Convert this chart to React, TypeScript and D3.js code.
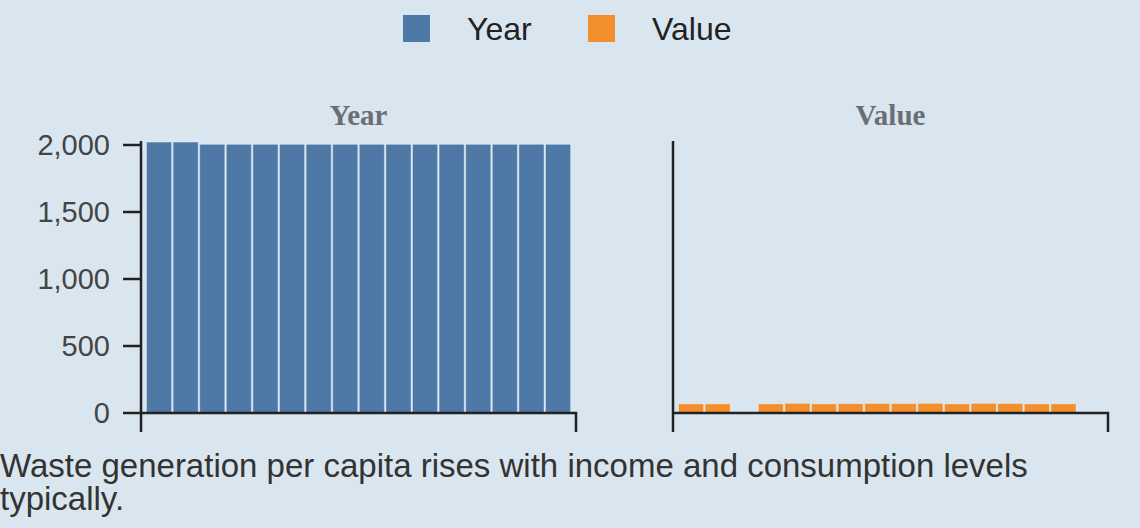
import React from "react";
import * as d3 from "d3";

const years = [2022, 2022, 2005, 2005, 2005, 2005, 2005, 2005, 2005, 2005, 2005, 2005, 2005, 2005, 2005, 2005];
const values: (number | null)[] = [68, 68, null, 68, 72, 68, 70, 71, 70, 72, 68, 72, 71, 68, 68, null];
const yTicks = [0, 500, 1000, 1500, 2000];
const caption = ["Waste generation per capita rises with income and consumption levels", "typically."];

const W = 1140, H = 528;
const y = d3.scaleLinear().domain([0, 2000]).range([413, 145]);

function Panel({ x0, x1, data, color, title, labels }: { x0: number; x1: number; data: (number | null)[]; color: string; title: string; labels: boolean }) {
  const x = d3.scaleBand<number>().domain(d3.range(16)).range([x0 + 5, x0 + 5 + 16 * 26.6]).padding(0);
  return (
    <g>
      <text x={(x0 + x1) / 2} y={125} textAnchor="middle" fontFamily="Liberation Serif" fontWeight="bold" fontSize={29} fill="#6b6e73">{title}</text>
      {data.map((v, i) => v == null ? null : (
        <rect key={i} x={x(i)! + 0.5} y={y(v)} width={x.bandwidth() - 1.5} height={y(0) - y(v)} fill={color} stroke="rgba(255,255,255,0.35)" strokeWidth={1} />
      ))}
      <line x1={x0} x2={x0} y1={141} y2={432} stroke="#222" strokeWidth={2.5} />
      <path d={`M${x0},413H${x1}V432`} fill="none" stroke="#222" strokeWidth={2.5} />
      {labels && yTicks.map(t => (
        <g key={t}>
          <line x1={x0 - 18} x2={x0} y1={y(t)} y2={y(t)} stroke="#222" strokeWidth={2.5} />
          <text x={x0 - 31} y={y(t)} dy="0.35em" textAnchor="end" fontFamily="Liberation Sans" fontSize={29} fill="#444">{d3.format(",")(t)}</text>
        </g>
      ))}
    </g>
  );
}

export default function App() {
  return (
    <svg width={W} height={H} style={{ position: "absolute", left: 0, top: 0, background: "#d9e6f0" }}>
      <rect x={403} y={15} width={27} height={27} fill="#4e79a7" />
      <text x={467} y={40} fontFamily="Liberation Sans" fontSize={32} fill="#222">Year</text>
      <rect x={588} y={15} width={27} height={27} fill="#f28e2b" />
      <text x={652} y={40} fontFamily="Liberation Sans" fontSize={32} fill="#222">Value</text>
      <Panel x0={141} x1={576} data={years} color="#4e79a7" title="Year" labels={true} />
      <Panel x0={673} x1={1108} data={values} color="#f28e2b" title="Value" labels={false} />
      {caption.map((c, i) => (
        <text key={i} x={0} y={477 + i * 33} fontFamily="Liberation Sans" fontSize={33} fill="#333">{c}</text>
      ))}
    </svg>
  );
}
